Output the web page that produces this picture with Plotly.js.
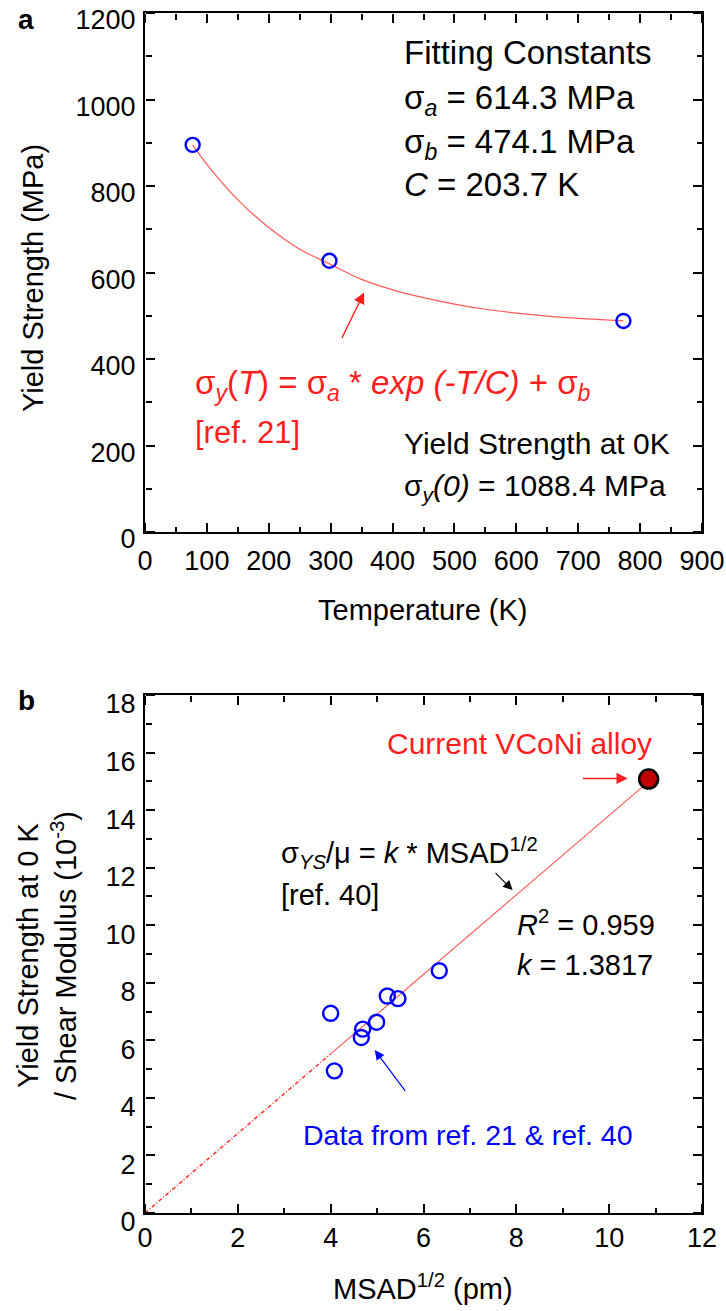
<!DOCTYPE html>
<html>
<head>
<meta charset="utf-8">
<script src="https://cdn.plot.ly/plotly-3.0.1.min.js"></script>
<style>html,body{margin:0;padding:0;background:#fff;}#chart{width:726px;height:1311px;}</style>
</head>
<body>
<div id="chart"></div>
<script>
// ---- Panel a data ----
const tempK = [77, 298, 773];
const yieldMPa = [895, 627, 488];
const fitTempK = [77, 100, 150, 200, 250, 298, 350, 400, 450, 500, 550, 600, 650, 700, 773];
const fitYieldMPa = [895, 850, 768, 704, 654, 620, 584, 560, 542, 527, 515, 506, 499, 494, 488];
const tempTicks = [0, 100, 200, 300, 400, 500, 600, 700, 800, 900];
const yieldTicks = [0, 200, 400, 600, 800, 1000, 1200];

// ---- Panel b data ----
const msadRef = [4.00, 4.08, 4.69, 4.66, 4.99, 5.22, 5.45, 6.34];
const ratioRef = [6.94, 4.94, 6.39, 6.10, 6.63, 7.54, 7.45, 8.42];
const msadCurrent = [10.85];
const ratioCurrent = [15.08];
const fitSolidX = [4.0, 10.9];
const fitSolidY = [5.53, 15.06];
const fitDashX = [0, 4.0];
const fitDashY = [0, 5.53];
const msadTicks = [0, 2, 4, 6, 8, 10, 12];
const ratioTicks = [0, 2, 4, 6, 8, 10, 12, 14, 16, 18];

// pixel -> paper helpers (plot area: x 145..702, y 13..1213)
const L = 145, R = 24, T = 13, B = 98, W = 726, H = 1311;
const PW = W - L - R, PH = H - T - B;
const px = x => (x - L) / PW;
const py = y => (H - B - y) / PH;

const FONT = 'Liberation Sans, Arial, Helvetica, sans-serif';
const RED = 'rgb(255,30,30)';
const FITRED = 'rgb(255,90,90)';
const BLUE = 'rgb(0,0,255)';

const traces = [
  {x: fitTempK, y: fitYieldMPa, xaxis: 'x', yaxis: 'y', mode: 'lines', line: {color: FITRED, width: 1.2, shape: 'spline'}, hoverinfo: 'skip'},
  {x: tempK, y: yieldMPa, xaxis: 'x', yaxis: 'y', mode: 'markers', marker: {symbol: 'circle-open', size: 14, color: BLUE, line: {color: BLUE, width: 2.4}}},
  {x: fitDashX, y: fitDashY, xaxis: 'x2', yaxis: 'y2', mode: 'lines', line: {color: 'rgb(255,50,50)', width: 1.5, dash: '4px,2px,1px,2px'}, hoverinfo: 'skip'},
  {x: fitSolidX, y: fitSolidY, xaxis: 'x2', yaxis: 'y2', mode: 'lines', line: {color: FITRED, width: 1.2}, hoverinfo: 'skip'},
  {x: msadRef, y: ratioRef, xaxis: 'x2', yaxis: 'y2', mode: 'markers', marker: {symbol: 'circle-open', size: 15, color: BLUE, line: {color: BLUE, width: 2.4}}},
  {x: msadCurrent, y: ratioCurrent, xaxis: 'x2', yaxis: 'y2', mode: 'markers', marker: {symbol: 'circle', size: 19, color: 'rgb(192,0,0)', line: {color: '#000', width: 2.5}}}
];
// empty helper traces so that the tick-only overlay axes belong to a subplot
[['x3', 'y'], ['x4', 'y'], ['x', 'y3'], ['x', 'y4'], ['x5', 'y2'], ['x6', 'y2'], ['x2', 'y5'], ['x2', 'y6']].forEach(p => {
  traces.push({x: [], y: [], xaxis: p[0], yaxis: p[1], mode: 'markers', hoverinfo: 'skip', showlegend: false});
});

const TF = {family: FONT, size: 27, color: '#000'};
// main axes: frame + labels (no tick marks)
function mainAxis(extra) {
  return Object.assign({
    tickmode: 'array', ticks: '', showline: true, linewidth: 2, linecolor: '#000', mirror: true,
    showgrid: false, zeroline: false, tickfont: TF
  }, extra);
}
// tick-only overlay axes: outside ticks of an axis placed on the opposite frame edge point into the plot
function tickAxis(base, side, pos, range, vals, minorStep) {
  return {
    overlaying: base, anchor: 'free', position: pos, side: side, range: range,
    tickmode: 'array', tickvals: vals, showticklabels: false,
    ticks: 'outside', ticklen: 9, tickwidth: 2, tickcolor: '#000',
    minor: {tickmode: 'linear', tick0: 0, dtick: minorStep, ticks: 'outside', ticklen: 5.5, tickwidth: 1.8, tickcolor: '#000', showgrid: false},
    showline: false, showgrid: false, zeroline: false
  };
}

const annFont = (size, color) => ({family: FONT, size: size, color: color});
const C = {xanchor: 'center', yanchor: 'middle', showarrow: false};
const LM = {xanchor: 'left', yanchor: 'middle', showarrow: false};
const annotations = [
  Object.assign({xref: 'paper', yref: 'paper', x: px(26), y: py(19), text: '<b>a</b>', font: annFont(28, '#000')}, C),
  Object.assign({xref: 'paper', yref: 'paper', x: px(26), y: py(700), text: '<b>b</b>', font: annFont(28, '#000')}, C),
  Object.assign({xref: 'paper', yref: 'paper', x: px(423), y: py(610), text: 'Temperature (K)', font: annFont(29, '#000')}, C),
  Object.assign({xref: 'paper', yref: 'paper', x: px(33), y: py(278), text: 'Yield Strength (MPa)', textangle: -90, font: annFont(29, '#000')}, C),
  Object.assign({xref: 'paper', yref: 'paper', x: px(423), y: py(1287), text: 'MSAD<sup>1/2</sup> (pm)', font: annFont(29, '#000')}, C),
  Object.assign({xref: 'paper', yref: 'paper', x: px(47), y: py(956), text: 'Yield Strength at 0 K<br>/ Shear Modulus (10<sup>-3</sup>)', textangle: -90, font: annFont(29, '#000')}, C),
  Object.assign({xref: 'x', yref: 'y', x: 415, y: 1109, text: 'Fitting Constants', font: annFont(33, '#000')}, LM),
  Object.assign({xref: 'x', yref: 'y', x: 415, y: 1000, text: 'σ<sub><i>a</i></sub> = 614.3 MPa', font: annFont(33, '#000')}, LM),
  Object.assign({xref: 'x', yref: 'y', x: 415, y: 896, text: 'σ<sub><i>b</i></sub> = 474.1 MPa', font: annFont(33, '#000')}, LM),
  Object.assign({xref: 'x', yref: 'y', x: 415, y: 804, text: '<i>C</i> = 203.7 K', font: annFont(33, '#000')}, LM),
  Object.assign({xref: 'x', yref: 'y', x: 77, y: 340, text: 'σ<sub><i>y</i></sub>(<i>T</i>) = σ<sub><i>a</i></sub> * <i>exp (-T/C)</i> + σ<sub><i>b</i></sub>', font: annFont(33, RED)}, LM),
  Object.assign({xref: 'x', yref: 'y', x: 77, y: 230, text: '[ref. 21]', font: annFont(31, RED)}, LM),
  Object.assign({xref: 'x', yref: 'y', x: 415, y: 205, text: 'Yield Strength at 0K', font: annFont(30, '#000')}, LM),
  Object.assign({xref: 'x', yref: 'y', x: 415, y: 102, text: 'σ<sub><i>y</i></sub><i>(0)</i> = 1088.4 MPa', font: annFont(30, '#000')}, LM),
  {xref: 'x', yref: 'y', axref: 'x', ayref: 'y', x: 354, y: 554, ax: 317, ay: 445, text: '', showarrow: true, arrowhead: 2, arrowsize: 1.6, arrowwidth: 1.4, arrowcolor: RED},
  Object.assign({xref: 'x2', yref: 'y2', x: 5.16, y: 16.33, text: 'Current VCoNi alloy', font: annFont(30, RED)}, LM),
  {xref: 'x2', yref: 'y2', axref: 'x2', ayref: 'y2', x: 10.4, y: 15.1, ax: 9.4, ay: 15.1, text: '', showarrow: true, arrowhead: 2, arrowsize: 1.6, arrowwidth: 1.4, arrowcolor: RED},
  Object.assign({xref: 'x2', yref: 'y2', x: 2.89, y: 12.5, text: 'σ<sub><i>YS</i></sub>/μ = <i>k</i> * MSAD<sup>1/2</sup>', font: annFont(29, '#000')}, LM),
  Object.assign({xref: 'x2', yref: 'y2', x: 2.89, y: 11.05, text: '[ref. 40]', font: annFont(29, '#000')}, LM),
  {xref: 'x2', yref: 'y2', axref: 'x2', ayref: 'y2', x: 7.92, y: 11.22, ax: 7.52, ay: 11.86, text: '', showarrow: true, arrowhead: 2, arrowsize: 1.6, arrowwidth: 1.2, arrowcolor: '#000'},
  Object.assign({xref: 'x2', yref: 'y2', x: 7.97, y: 10.09, text: '<i>R</i><sup>2</sup> = 0.959', font: annFont(29, '#000')}, LM),
  Object.assign({xref: 'x2', yref: 'y2', x: 7.97, y: 8.62, text: '<i>k</i> = 1.3817', font: annFont(29, '#000')}, LM),
  Object.assign({xref: 'x2', yref: 'y2', x: 3.35, y: 2.71, text: 'Data from ref. 21 &amp; ref. 40', font: annFont(28.5, BLUE)}, LM),
  {xref: 'x2', yref: 'y2', axref: 'x2', ayref: 'y2', x: 4.95, y: 5.66, ax: 5.63, ay: 4.19, text: '', showarrow: true, arrowhead: 2, arrowsize: 1.6, arrowwidth: 1.2, arrowcolor: BLUE}
];

const yA = [py(532), 1], yB = [0, py(695)];
const rxA = [0, 900], ryA = [0, 1200], rxB = [0, 12], ryB = [0, 18];
const layout = {
  width: W, height: H,
  margin: {l: L, r: R, t: T, b: B, pad: 0},
  paper_bgcolor: '#fff', plot_bgcolor: 'rgba(0,0,0,0)',
  showlegend: false,
  font: {family: FONT, size: 27, color: '#000'},
  xaxis: mainAxis({domain: [0, 1], anchor: 'y', range: rxA, tickvals: tempTicks, ticktext: tempTicks.map(String), ticklabelstandoff: 4}),
  yaxis: mainAxis({domain: yA, anchor: 'x', range: ryA, tickvals: yieldTicks, ticktext: yieldTicks.map(String), ticklabelstandoff: 2, ticklabelshift: 7}),
  xaxis2: mainAxis({domain: [0, 1], anchor: 'y2', range: rxB, tickvals: msadTicks, ticktext: msadTicks.map(String)}),
  yaxis2: mainAxis({domain: yB, anchor: 'x2', range: ryB, tickvals: ratioTicks, ticktext: ratioTicks.map(String), ticklabelstandoff: 2, ticklabelshift: 9}),
  // inward ticks, panel a
  xaxis3: tickAxis('x', 'top', yA[0], rxA, tempTicks, 50),
  xaxis4: tickAxis('x', 'bottom', yA[1], rxA, tempTicks, 50),
  yaxis3: tickAxis('y', 'right', 0, ryA, yieldTicks, 100),
  yaxis4: tickAxis('y', 'left', 1, ryA, yieldTicks, 100),
  // inward ticks, panel b
  xaxis5: tickAxis('x2', 'top', yB[0], rxB, msadTicks, 1),
  xaxis6: tickAxis('x2', 'bottom', yB[1], rxB, msadTicks, 1),
  yaxis5: tickAxis('y2', 'right', 0, ryB, ratioTicks, 1),
  yaxis6: tickAxis('y2', 'left', 1, ryB, ratioTicks, 1),
  annotations: annotations
};

Plotly.newPlot('chart', traces, layout, {displayModeBar: false});
</script>
</body>
</html>
